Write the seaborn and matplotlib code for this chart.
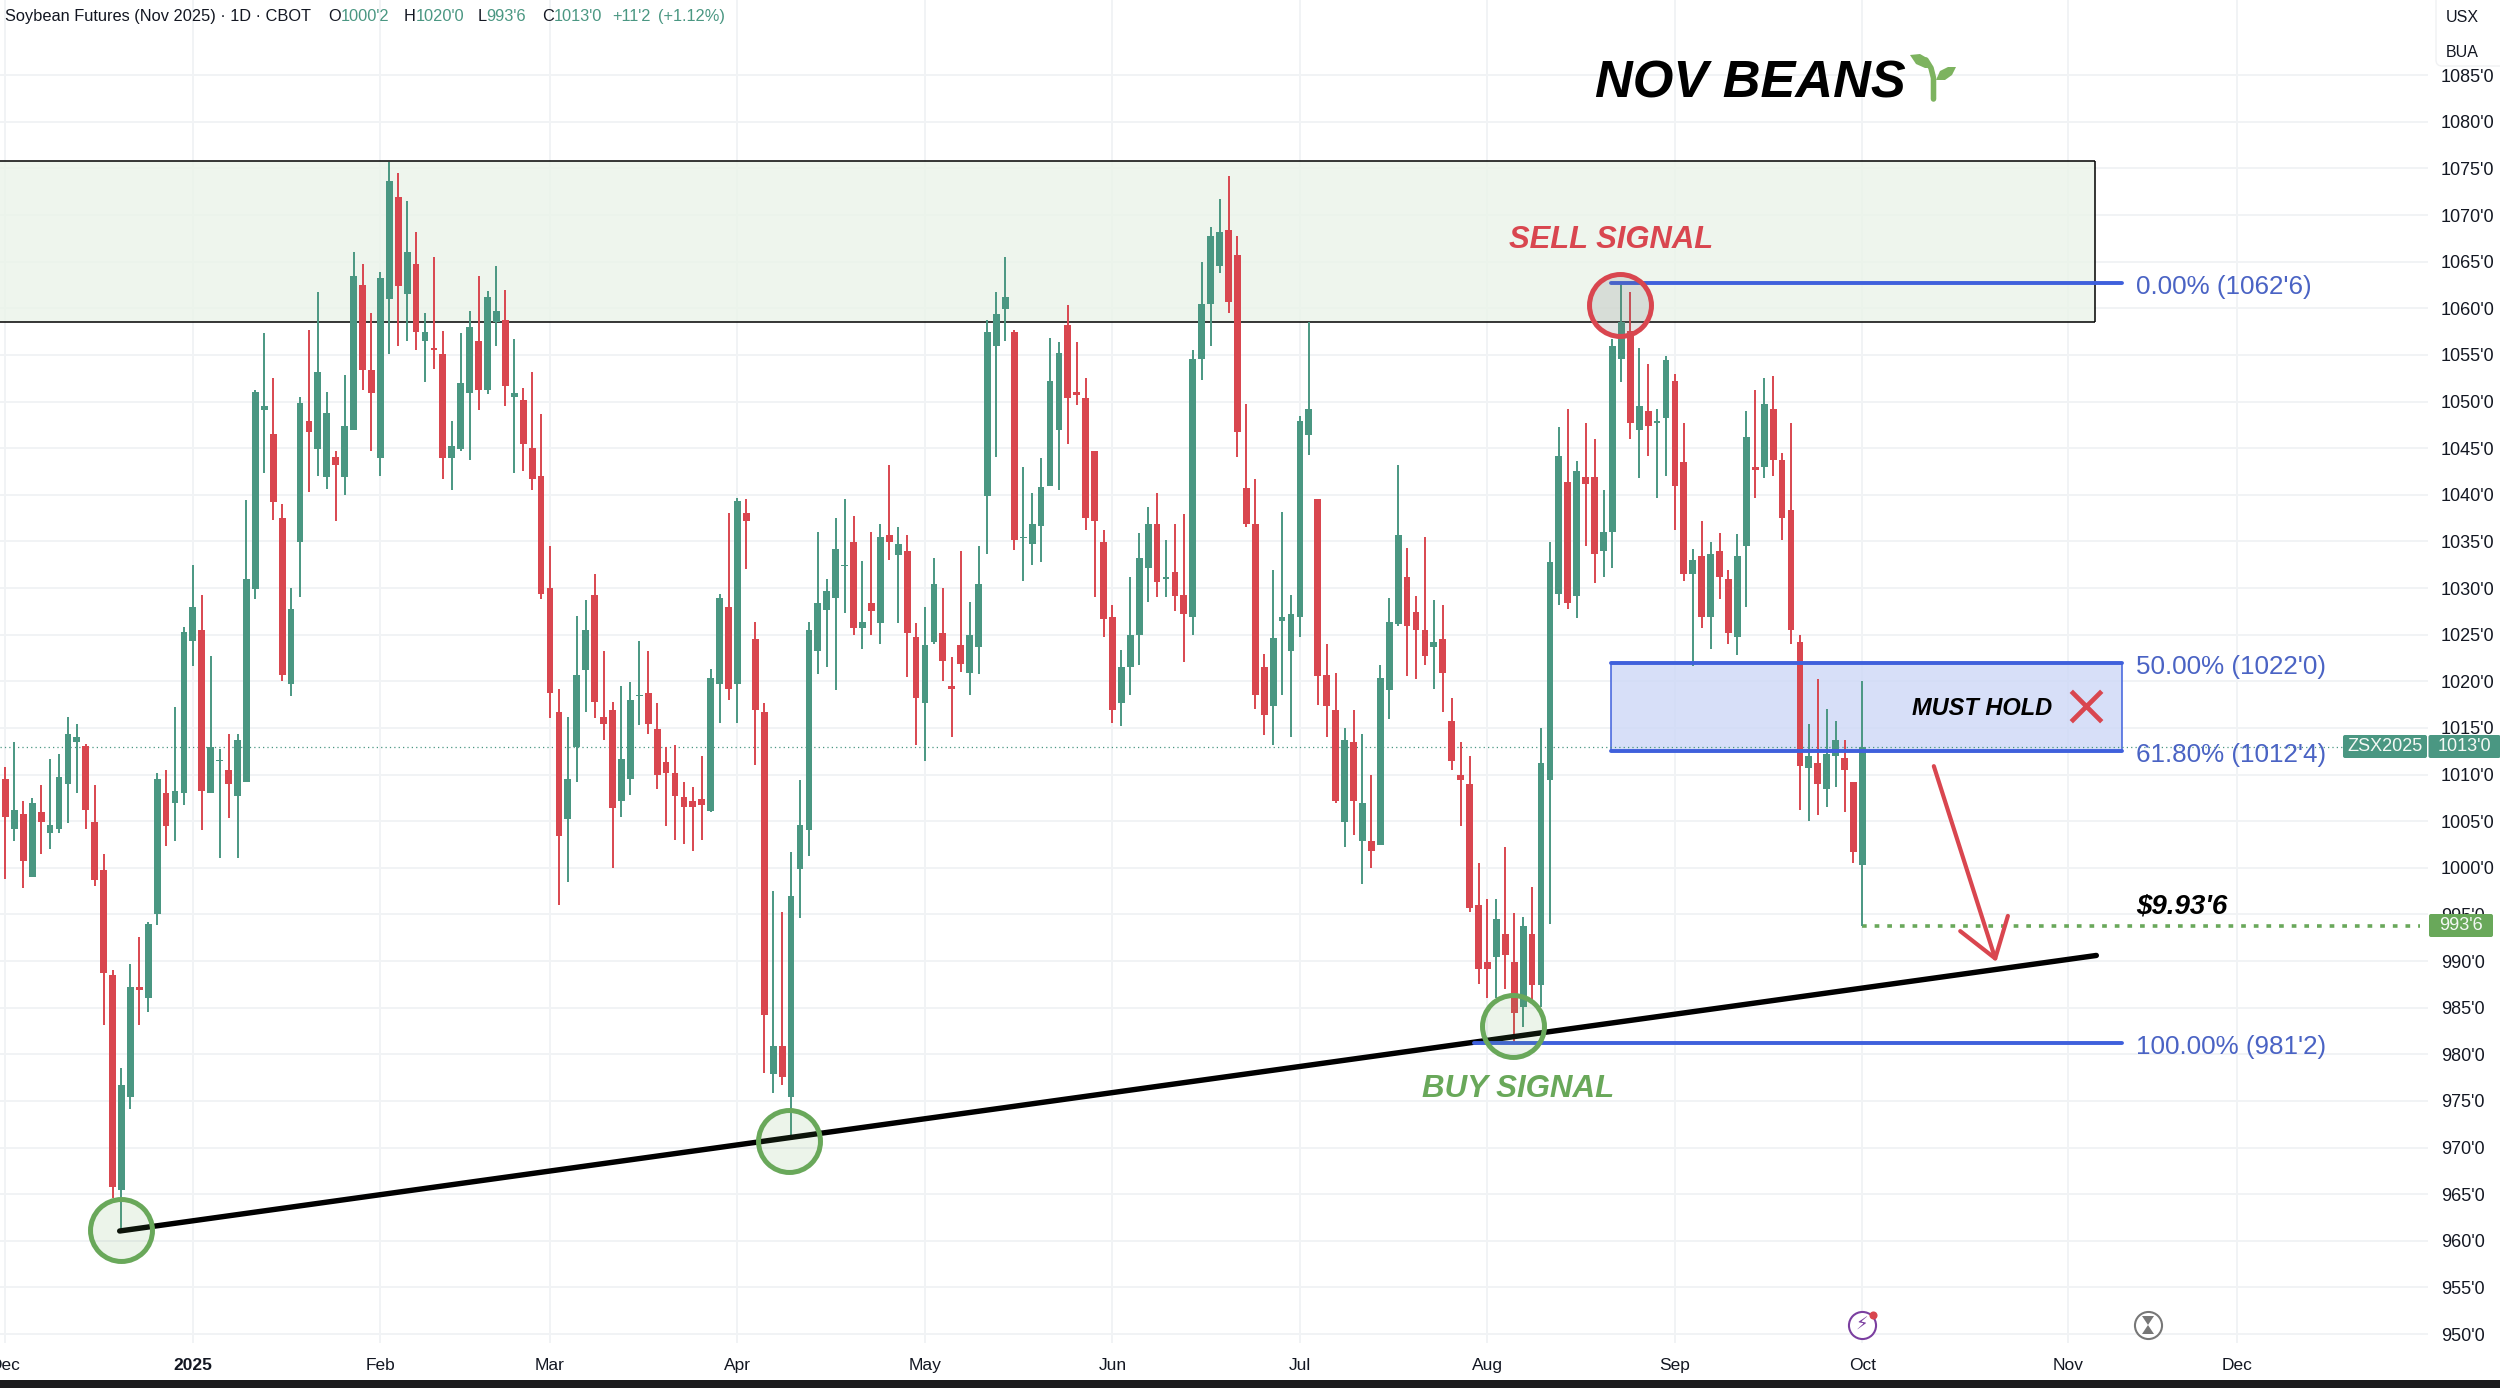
import pandas as pd
import seaborn as sns
import matplotlib.pyplot as plt
from matplotlib.patches import FancyBboxPatch, Rectangle

# daily candles (cents per bushel)
opens = [1009.5, 1004.2, 1005.8, 999.0, 1006.0, 1003.7, 1004.2, 1009.0, 1013.5, 1013.1,
         1004.9, 999.8, 988.5, 965.4, 975.4, 987.2, 986.0, 995.0, 1008.0, 1007.0,
         1008.0, 1024.3, 1025.5, 1008.0, 1011.4, 1010.5, 1007.7, 1009.2, 1029.9, 1049.1,
         1046.5, 1037.5, 1019.7, 1034.9, 1047.9, 1044.9, 1041.9, 1044.0, 1041.9, 1046.9,
         1062.5, 1053.4, 1043.9, 1061.0, 1071.9, 1061.5, 1064.8, 1056.5, 1055.7, 1055.1,
         1043.9, 1044.9, 1050.9, 1056.5, 1051.2, 1058.5, 1058.7, 1050.5, 1050.2, 1045.0,
         1042.0, 1030.0, 1016.7, 1005.2, 1013.0, 1021.2, 1029.3, 1016.2, 1016.9, 1007.2,
         1009.5, 1018.4, 1018.7, 1014.9, 1011.3, 1010.2, 1007.6, 1007.2, 1007.4, 1006.1,
         1019.7, 1028.0, 1019.7, 1038.0, 1024.5, 1016.7, 977.9, 980.9, 975.4, 999.9,
         1004.0, 1023.2, 1027.6, 1028.9, 1032.4, 1034.9, 1025.7, 1028.4, 1026.2, 1035.7,
         1033.5, 1034.0, 1024.7, 1017.7, 1024.2, 1025.2, 1019.5, 1023.9, 1020.9, 1023.7,
         1039.9, 1056.0, 1059.9, 1057.5, 1035.4, 1034.7, 1036.7, 1040.9, 1046.9, 1058.2,
         1051.0, 1050.4, 1044.7, 1034.9, 1026.9, 1017.7, 1021.5, 1025.0, 1032.2, 1036.9,
         1031.0, 1031.7, 1029.3, 1026.9, 1054.6, 1060.5, 1064.5, 1068.4, 1065.7, 1040.7,
         1036.9, 1021.5, 1017.4, 1026.5, 1023.2, 1026.9, 1046.4, 1039.5, 1020.7, 1016.9,
         1004.9, 1013.5, 1002.9, 1002.9, 1002.4, 1019.1, 1026.1, 1031.2, 1027.4, 1025.5,
         1023.7, 1024.5, 1015.7, 1010.0, 1009.0, 996.0, 989.9, 990.4, 992.9, 989.9,
         985.1, 992.9, 987.4, 1009.4, 1029.4, 1041.4, 1029.2, 1041.9, 1041.9, 1034.0,
         1036.0, 1054.6, 1057.6, 1046.9, 1049.0, 1047.7, 1048.2, 1052.2, 1043.5, 1031.5,
         1033.4, 1026.9, 1034.0, 1031.0, 1024.7, 1034.5, 1043.0, 1043.0, 1049.2, 1043.7,
         1038.4, 1024.2, 1010.7, 1011.2, 1008.4, 1012.0, 1011.8, 1009.2, 1000.25]
highs = [1010.8, 1013.5, 1007.2, 1007.5, 1008.9, 1011.7, 1012.2, 1016.2, 1015.4, 1013.3,
         1008.9, 1001.5, 989.0, 978.5, 989.7, 992.6, 994.2, 1010.2, 1010.5, 1017.2,
         1025.8, 1032.5, 1029.3, 1022.7, 1012.7, 1014.4, 1014.4, 1039.4, 1051.2, 1057.3,
         1052.5, 1039.0, 1030.0, 1050.5, 1057.7, 1061.8, 1051.0, 1044.7, 1052.8, 1066.0,
         1064.8, 1059.5, 1063.9, 1075.7, 1074.5, 1071.5, 1068.2, 1059.5, 1065.5, 1057.6,
         1047.9, 1057.3, 1059.7, 1063.5, 1061.9, 1064.5, 1062.0, 1056.7, 1051.4, 1053.2,
         1048.7, 1034.5, 1019.2, 1016.2, 1027.0, 1028.7, 1031.5, 1023.2, 1017.8, 1019.5,
         1019.9, 1024.3, 1023.2, 1017.7, 1013.0, 1013.2, 1009.2, 1008.7, 1012.0, 1021.3,
         1029.4, 1038.0, 1039.7, 1039.5, 1026.4, 1017.7, 997.5, 995.3, 1001.7, 1009.4,
         1026.4, 1036.0, 1031.0, 1037.5, 1039.5, 1037.7, 1032.9, 1036.0, 1036.9, 1043.2,
         1036.5, 1035.7, 1026.3, 1028.0, 1033.2, 1030.0, 1022.6, 1034.0, 1028.5, 1034.5,
         1058.7, 1061.8, 1065.5, 1057.7, 1043.0, 1040.2, 1043.9, 1056.8, 1056.4, 1060.3,
         1056.4, 1052.5, 1044.7, 1036.2, 1028.2, 1023.4, 1031.2, 1035.9, 1038.7, 1040.2,
         1035.2, 1036.9, 1037.9, 1055.5, 1065.0, 1068.7, 1071.7, 1074.2, 1067.7, 1049.7,
         1041.7, 1022.9, 1031.9, 1038.2, 1029.3, 1048.4, 1058.5, 1039.5, 1024.0, 1020.9,
         1015.0, 1016.9, 1014.4, 1010.0, 1021.7, 1028.9, 1043.2, 1034.3, 1029.1, 1035.5,
         1028.7, 1028.2, 1018.2, 1013.5, 1012.0, 1000.5, 996.6, 996.6, 1002.2, 995.2,
         994.7, 997.9, 1015.0, 1034.9, 1047.3, 1049.2, 1043.6, 1047.7, 1046.0, 1040.5,
         1056.7, 1062.75, 1061.8, 1055.7, 1054.0, 1049.2, 1054.9, 1052.9, 1047.7, 1034.2,
         1037.2, 1034.9, 1035.9, 1031.9, 1035.8, 1049.0, 1051.2, 1052.5, 1052.7, 1044.5,
         1047.7, 1025.0, 1015.4, 1020.2, 1017.0, 1015.7, 1013.7, 1009.2, 1020.0]
lows = [998.8, 1002.9, 997.8, 999.0, 1001.5, 1002.0, 1003.7, 1004.8, 1008.0, 1004.2,
        998.0, 983.1, 964.6, 961.2, 974.1, 983.1, 984.5, 993.9, 1002.3, 1002.9,
        1006.7, 1021.6, 1004.1, 1008.0, 1001.1, 1005.3, 1001.1, 1009.2, 1028.8, 1042.3,
        1037.3, 1020.0, 1018.4, 1029.0, 1040.3, 1042.0, 1040.6, 1037.2, 1040.0, 1046.9,
        1051.2, 1044.7, 1042.0, 1055.1, 1056.0, 1056.5, 1055.5, 1052.1, 1053.5, 1041.7,
        1040.5, 1044.7, 1043.7, 1049.1, 1050.8, 1056.0, 1049.5, 1042.3, 1042.6, 1040.5,
        1028.8, 1016.1, 996.0, 998.5, 1009.2, 1016.7, 1016.1, 1013.7, 1000.0, 1005.5,
        1007.8, 1015.3, 1014.3, 1008.5, 1004.5, 1003.0, 1002.5, 1001.8, 1003.0, 1006.0,
        1015.5, 1018.0, 1015.5, 1032.0, 1011.0, 978.0, 975.8, 976.7, 971.3, 994.6,
        1001.3, 1020.8, 1021.5, 1019.1, 1027.3, 1025.0, 1023.5, 1025.0, 1024.0, 1033.0,
        1026.3, 1020.5, 1013.2, 1011.5, 1024.0, 1020.0, 1014.0, 1021.0, 1018.5, 1020.8,
        1033.7, 1044.0, 1056.5, 1034.1, 1030.8, 1032.5, 1032.8, 1040.9, 1040.5, 1045.5,
        1049.6, 1036.2, 1029.0, 1024.7, 1015.5, 1015.2, 1018.5, 1021.7, 1028.5, 1029.0,
        1029.0, 1027.5, 1022.1, 1025.0, 1052.3, 1056.0, 1063.8, 1059.5, 1044.0, 1036.5,
        1017.0, 1014.2, 1013.2, 1018.5, 1014.0, 1024.7, 1044.3, 1017.5, 1014.0, 1007.0,
        1002.2, 1003.5, 998.3, 1000.0, 1002.4, 1016.0, 1025.9, 1020.6, 1020.2, 1021.7,
        1019.2, 1016.7, 1010.5, 1004.5, 995.3, 987.5, 986.0, 986.0, 987.0, 981.25,
        982.9, 985.7, 985.1, 994.0, 1028.2, 1027.8, 1026.8, 1034.5, 1030.5, 1031.2,
        1032.2, 1052.1, 1046.0, 1041.8, 1044.2, 1039.7, 1042.0, 1036.2, 1030.8, 1021.6,
        1025.7, 1023.5, 1028.8, 1024.0, 1022.8, 1028.0, 1039.7, 1041.8, 1042.0, 1035.2,
        1024.0, 1006.2, 1005.0, 1005.7, 1006.5, 1008.7, 1006.0, 1000.5, 993.75]
closes = [1005.4, 1006.2, 1000.7, 1006.9, 1004.9, 1004.6, 1009.7, 1014.4, 1014.0, 1006.2,
          998.7, 988.7, 965.8, 976.7, 987.2, 986.9, 994.0, 1009.5, 1004.5, 1008.2,
          1025.3, 1028.0, 1008.2, 1013.0, 1011.6, 1009.0, 1013.7, 1031.0, 1051.0, 1049.5,
          1039.2, 1020.7, 1027.7, 1049.8, 1046.7, 1053.2, 1048.8, 1043.2, 1047.4, 1063.5,
          1053.4, 1050.9, 1063.3, 1073.6, 1062.4, 1066.0, 1057.5, 1057.5, 1055.5, 1043.9,
          1045.2, 1052.0, 1058.0, 1051.2, 1061.2, 1059.7, 1051.7, 1050.9, 1045.4, 1041.7,
          1029.4, 1018.7, 1003.4, 1009.5, 1020.7, 1025.5, 1017.8, 1015.4, 1006.4, 1011.7,
          1018.0, 1018.5, 1015.4, 1009.9, 1010.2, 1007.7, 1006.5, 1006.5, 1006.7, 1020.4,
          1028.9, 1019.2, 1039.3, 1037.2, 1016.9, 984.2, 980.9, 977.6, 997.0, 1004.6,
          1025.5, 1028.4, 1029.7, 1034.2, 1032.5, 1025.7, 1026.4, 1027.5, 1035.5, 1034.9,
          1034.7, 1025.2, 1018.2, 1023.9, 1030.4, 1022.2, 1019.2, 1021.9, 1025.0, 1030.4,
          1057.5, 1059.4, 1061.2, 1035.2, 1035.5, 1036.9, 1040.8, 1052.2, 1055.2, 1050.4,
          1050.7, 1037.5, 1037.2, 1026.7, 1016.9, 1021.5, 1025.0, 1033.2, 1036.9, 1030.7,
          1031.2, 1029.2, 1027.2, 1054.6, 1060.5, 1067.7, 1068.2, 1060.7, 1046.7, 1036.9,
          1018.5, 1016.4, 1024.6, 1026.9, 1027.2, 1047.9, 1049.2, 1020.6, 1017.4, 1007.2,
          1013.7, 1007.2, 1007.0, 1001.8, 1020.4, 1026.4, 1035.7, 1025.9, 1025.5, 1022.7,
          1024.2, 1020.9, 1011.4, 1009.4, 995.7, 989.2, 989.2, 994.5, 990.7, 984.4,
          993.8, 987.4, 1011.2, 1032.8, 1044.2, 1028.4, 1042.5, 1041.2, 1033.6, 1036.0,
          1056.0, 1058.5, 1047.7, 1049.5, 1047.4, 1047.9, 1054.5, 1040.9, 1031.5, 1033.0,
          1026.9, 1033.7, 1031.2, 1025.2, 1033.4, 1046.2, 1042.7, 1049.7, 1043.7, 1037.5,
          1025.5, 1010.9, 1012.0, 1009.0, 1012.2, 1013.7, 1010.5, 1001.7, 1013.0]

month_pos = [0, 21, 42, 61, 82, 103, 124, 145, 166, 187, 208, 231, 250]
month_names = ['Dec', '2025', 'Feb', 'Mar', 'Apr', 'May', 'Jun', 'Jul', 'Aug', 'Sep', 'Oct', 'Nov', 'Dec']
price_ticks = list(range(950, 1086, 5))

trend_x = [12.8, 234.2]
trend_y = [961.05, 990.6]

fib_levels = [1062.75, 1022.0, 1012.5, 981.25]
fib_start = [179.8, 179.8, 179.8, 164.5]
fib_end = 237.1
fib_labels = ["0.00% (1062'6)", "50.00% (1022'0)", "61.80% (1012'4)", "100.00% (981'2)"]

zone_top, zone_bottom, zone_end = 1075.8, 1058.5, 234.0
last_close, last_low = 1013.0, 993.75

buy_x = [13.0, 87.8, 168.9]
buy_y = [961.2, 970.7, 983.0]
sell_x = [180.8]
sell_y = [1060.4]

GREEN = '#4a9782'
RED = '#d9464f'
BLUE = '#3f60dc'
LABEL_BLUE = '#4a63c4'
SIGNAL_GREEN = '#69a85a'
INK = '#131722'

sns.set_theme(style='white')
plt.rcParams['font.family'] = ['Liberation Sans', 'DejaVu Sans']

df = pd.DataFrame({'open': opens, 'high': highs, 'low': lows, 'close': closes})
df['bar'] = range(len(df))
df['color'] = [GREEN if c >= o else RED for o, c in zip(df['open'], df['close'])]
df['top'] = df[['open', 'close']].max(axis=1)
df['bottom'] = df[['open', 'close']].min(axis=1)

fig = plt.figure(figsize=(25, 13.88), dpi=100)
ax = fig.add_axes([0, 1 - 1343 / 1388, 2428 / 2500, 1343 / 1388])
ax.set_xlim(-0.605, 271.35)
ax.set_ylim(949.04, 1093.06)

# grid and axes
ax.set_xticks(month_pos)
ax.set_xticklabels(month_names, fontsize=12.5, color=INK)
ax.get_xticklabels()[1].set_fontweight('bold')
ax.set_yticks(price_ticks)
ax.set_yticklabels([f"{p}'0" for p in price_ticks], fontsize=13, color=INK)
ax.yaxis.tick_right()
ax.tick_params(axis='x', length=0, pad=11)
ax.tick_params(axis='y', length=0, pad=9.4)
ax.grid(True, color='#f1f3f5', linewidth=1.4, zorder=0)
ax.set_axisbelow(True)
sns.despine(ax=ax, left=True, bottom=True, right=True, top=True)

# resistance zone
ax.fill_between([-0.605, zone_end], zone_bottom, zone_top, color='#ebf4ea', alpha=0.85, linewidth=0, zorder=1)
ax.hlines([zone_top, zone_bottom], -0.605, zone_end, color='black', linewidth=1.1, zorder=1.5)
ax.vlines(zone_end, zone_bottom, zone_top, color='black', linewidth=1.1, zorder=1.5)

# must hold box
ax.add_patch(Rectangle((fib_start[1], fib_levels[2]), fib_end - fib_start[1], fib_levels[1] - fib_levels[2],
                       facecolor='#cdd8f7', alpha=0.8, edgecolor='none', zorder=1))
ax.vlines([fib_start[1], fib_end], fib_levels[2], fib_levels[1], color=BLUE, linewidth=1.1, zorder=1.5)

# candles
ax.vlines(df['bar'], df['low'], df['high'], color=df['color'], linewidth=1.4, zorder=3)
ax.bar(df['bar'], df['top'] - df['bottom'], bottom=df['bottom'], width=0.76, color=df['color'], linewidth=0, zorder=4)

# trendline, fib levels, last price lines
sns.lineplot(x=trend_x, y=trend_y, color='black', linewidth=3.9, ax=ax, zorder=5, solid_capstyle='round')
for level, start, label in zip(fib_levels, fib_start, fib_labels):
    sns.lineplot(x=[start, fib_end], y=[level, level], color=BLUE, linewidth=2.8, ax=ax, zorder=5)
    ax.text(238.6, level - 0.45, label, color=LABEL_BLUE, fontsize=18.7, va='center', ha='left', zorder=6)
sns.lineplot(x=[-0.605, 261.8], y=[last_close, last_close], color=GREEN, linewidth=0.9, ax=ax,
             linestyle=(0, (1, 2.5)), zorder=2)
sns.lineplot(x=[208, 270.5], y=[last_low, last_low], color=SIGNAL_GREEN, linewidth=2.6, ax=ax,
             linestyle=(0, (1.3, 2.2)), zorder=2)

# signal circles
sns.scatterplot(x=buy_x, y=buy_y, s=1990, facecolor=(0.41, 0.66, 0.35, 0.12), edgecolor=SIGNAL_GREEN,
                linewidth=3.6, ax=ax, zorder=6)
sns.scatterplot(x=sell_x, y=sell_y, s=1990, facecolor=(0.45, 0.45, 0.45, 0.18), edgecolor=RED,
                linewidth=3.6, ax=ax, zorder=6)

# notes
ax.text(179.9, 1067.35, 'SELL SIGNAL', color=RED, fontsize=22.3, fontweight='bold', fontstyle='italic',
        ha='center', va='center', zorder=7)
ax.text(169.4, 976.25, 'BUY SIGNAL', color=SIGNAL_GREEN, fontsize=22.5, fontweight='bold', fontstyle='italic',
        ha='center', va='center', zorder=7)
ax.text(178.0, 1084.05, 'NOV BEANS', color='black', fontsize=37.6, fontweight='bold', fontstyle='italic',
        ha='left', va='center', zorder=7)
ax.text(213.6, 1017.05, 'MUST HOLD', color='black', fontsize=17, fontweight='bold', fontstyle='italic',
        ha='left', va='center', zorder=7)
ax.text(238.7, 995.9, "$9.93'6", color='black', fontsize=20, fontweight='bold', fontstyle='italic',
        ha='left', va='center', zorder=7)
ax.scatter([233.0], [1017.35], marker='x', s=480, color=RED, linewidth=3.4, zorder=7)
ax.annotate('', xy=(223.0, 989.9), xytext=(216.0, 1010.9), zorder=7,
            arrowprops=dict(arrowstyle='->,head_length=1.1,head_width=0.75', color=RED, linewidth=3,
                            mutation_scale=24, shrinkA=0, shrinkB=0))

# platform chrome drawn in picture pixels
ov = fig.add_axes([0, 0, 1, 1], zorder=5)
ov.set_xlim(0, 2500)
ov.set_ylim(1388, 0)
ov.axis('off')
ov.patch.set_alpha(0)

ov.add_patch(Rectangle((0, 1380), 2500, 8, facecolor='#1c1c1e', edgecolor='none'))
ov.add_patch(FancyBboxPatch((2436, -8), 80, 74, boxstyle='round,pad=0,rounding_size=6', facecolor='white',
                            edgecolor='#f0f1f3', linewidth=1))
ov.text(2446, 17, 'USX', fontsize=11.5, color=INK, va='center')
ov.text(2446, 52, 'BUA', fontsize=11.5, color=INK, va='center')

# price tags
for x0, w, y0, h, col, txt in [(2343, 84, 735, 23, GREEN, 'ZSX2025'), (2428.5, 72, 735, 23, GREEN, "1013'0"),
                               (2429, 64, 914, 23, SIGNAL_GREEN, "993'6")]:
    ov.add_patch(FancyBboxPatch((x0, y0), w, h, boxstyle='round,pad=0,rounding_size=2', facecolor=col,
                                edgecolor='none'))
    ov.text(x0 + w / 2, y0 + h / 2, txt, color='#f4f8f4', fontsize=13, ha='center', va='center')

# header legend
legend_parts = [(4.6, 'Soybean Futures (Nov 2025) · 1D · CBOT', INK), (328, 'O', INK), (341, "1000'2", GREEN),
                (403.6, 'H', INK), (416, "1020'0", GREEN), (477.6, 'L', INK), (486, "993'6", GREEN),
                (542, 'C', INK), (553.6, "1013'0", GREEN), (612, "+11'2", GREEN), (658, '(+1.12%)', GREEN)]
for x0, txt, col in legend_parts:
    ov.text(x0, 16.5, txt, color=col, fontsize=11.8, va='center', ha='left')

# sprout next to the title
ov.fill([1910, 1920, 1927, 1932, 1925, 1916], [55, 54, 58, 68, 68, 64], color='#7db35f', linewidth=0)
ov.fill([1936, 1940, 1948, 1956, 1952, 1945], [80, 71, 67, 67, 75, 80], color='#7db35f', linewidth=0)
ov.plot([1933.5, 1933.5, 1931, 1926], [99, 78, 68, 60], color='#7db35f', linewidth=4, solid_capstyle='round')

# bottom icons
ov.scatter([1862], [1325], s=380, facecolor='white', edgecolor='#7b3fa0', linewidth=1.5)
ov.text(1862, 1325, '\u26a1', color='#7b3fa0', fontsize=13, ha='center', va='center', family='DejaVu Sans')
ov.scatter([1872.5], [1315], s=34, color=RED, linewidth=0)
ov.scatter([2148], [1325], s=380, facecolor='white', edgecolor='#777777', linewidth=1.5)
# hourglass has no glyph in the installed fonts
ov.fill([2142, 2154, 2148], [1316, 1316, 1325], color='#777777', linewidth=0)
ov.fill([2142, 2154, 2148], [1334, 1334, 1325], color='#777777', linewidth=0)

fig.savefig('out.png', dpi=100)
